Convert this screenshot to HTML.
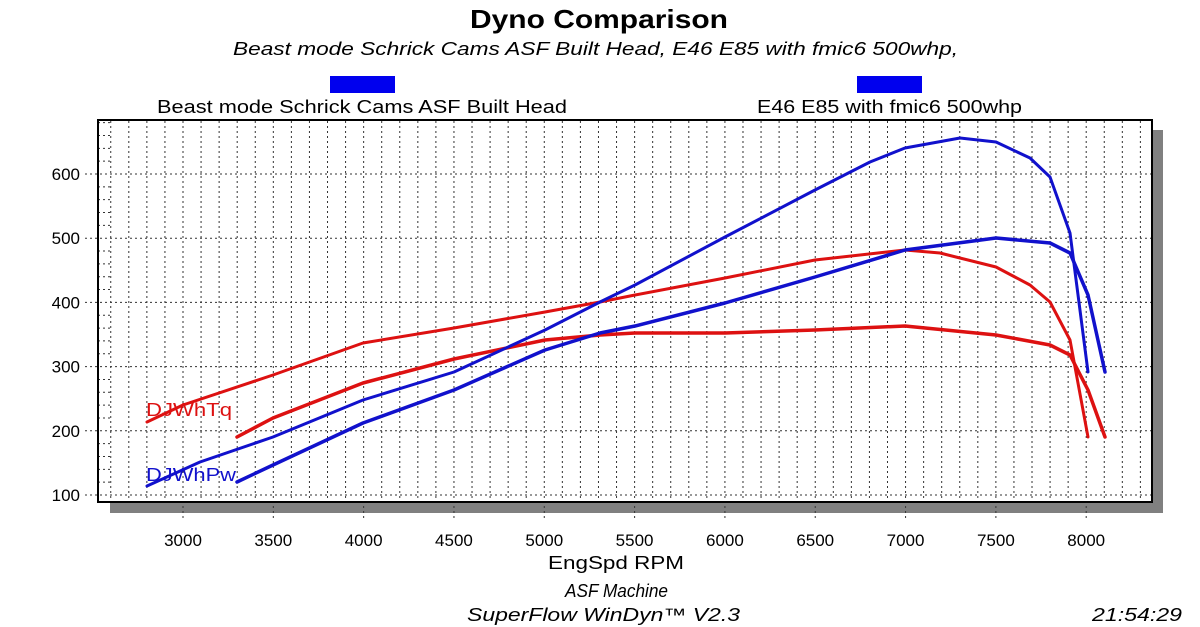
<!DOCTYPE html>
<html><head><meta charset="utf-8"><style>
html,body{margin:0;padding:0;background:#fff;}
svg{display:block;font-family:"Liberation Sans",sans-serif;}
</style></head><body>
<svg id="s" width="1200" height="627" viewBox="0 0 1200 627" xmlns="http://www.w3.org/2000/svg">
<rect x="0" y="0" width="1200" height="627" fill="#fff"/>
<text x="470" y="28" font-size="26" font-weight="bold" textLength="258" lengthAdjust="spacingAndGlyphs">Dyno Comparison</text>
<text x="233" y="55" font-size="18" font-style="italic" textLength="725" lengthAdjust="spacingAndGlyphs">Beast mode Schrick Cams ASF Built Head, E46 E85 with fmic6 500whp,</text>
<rect x="330" y="76" width="65" height="17" fill="#0000ee"/>
<rect x="857" y="76" width="65" height="17" fill="#0000ee"/>
<text x="157" y="113" font-size="18" textLength="410" lengthAdjust="spacingAndGlyphs">Beast mode Schrick Cams ASF Built Head</text>
<text x="757" y="113" font-size="18" textLength="265" lengthAdjust="spacingAndGlyphs">E46 E85 with fmic6 500whp</text>
<rect x="1152" y="130" width="11" height="383" fill="#808080"/>
<rect x="110" y="502" width="1053" height="11" fill="#808080"/>
<g id="grid" stroke="#333" stroke-width="1" stroke-dasharray="2,3"></g>
<rect x="98" y="120" width="1054" height="382" fill="none" stroke="#000" stroke-width="2"/>
<g font-size="17" text-anchor="end" id="yl"></g>
<g font-size="17" text-anchor="middle" id="xl"></g>
<text x="548" y="569" font-size="18" textLength="136" lengthAdjust="spacingAndGlyphs">EngSpd  RPM</text>
<text x="565" y="597" font-size="18" font-style="italic" textLength="103" lengthAdjust="spacingAndGlyphs">ASF Machine</text>
<text x="467" y="621" font-size="18" font-style="italic" textLength="273" lengthAdjust="spacingAndGlyphs">SuperFlow WinDyn™ V2.3</text>
<text x="1092" y="621" font-size="18" font-style="italic" textLength="90" lengthAdjust="spacingAndGlyphs">21:54:29</text>
<g fill="none" stroke-width="3.5" stroke-linejoin="round" stroke-linecap="round">
<polyline stroke="#dd1111" stroke-width="3" points="147,422 183,405 273,375 363,343 454,328 545,312 600,302 635,295 725,278 815,260 905,250 940,253 996,267 1030,285 1050,302 1070,340 1088,437"/>
<polyline stroke="#dd1111" points="237,437 273,418 363,383 454,359 545,340 600,335 635,333 725,333 815,330 905,326 996,335 1050,345 1070,355 1088,390 1105,437"/>
<polyline stroke="#1111cc" stroke-width="3" points="147,486 200,462 273,437 363,400 454,372 545,330 600,302 635,285 725,237 815,190 870,162 905,148 960,138 996,142 1030,158 1050,177 1070,233 1088,372"/>
<polyline stroke="#1111cc" points="237,482 273,465 363,423 454,390 545,350 600,333 635,326 725,303 815,277 905,250 996,238 1050,243 1070,253 1088,295 1105,372"/>
</g>
<text x="146" y="416" font-size="18" fill="#dd1111" textLength="86" lengthAdjust="spacingAndGlyphs">DJWhTq</text>
<text x="146" y="481" font-size="18" fill="#1111cc" textLength="90" lengthAdjust="spacingAndGlyphs">DJWhPw</text>
</svg>
<script>
var ns="http://www.w3.org/2000/svg",g=document.getElementById('grid');
function L(x1,y1,x2,y2){var l=document.createElementNS(ns,'line');l.setAttribute('x1',x1);l.setAttribute('y1',y1);l.setAttribute('x2',x2);l.setAttribute('y2',y2);g.appendChild(l);}
for(var r=2600;r<=8300;r+=100){var x=183+(r-3000)*0.18064;if(x>1150)break;L(x,121,x,(r%500==0)?520:501);}
for(var v=100;v<=600;v+=100){var y=174-(v-600)*0.642;L(85,y,1151,y);}
for(var v=100;v<=680;v+=20){if(v%100==0)continue;var y=174-(v-600)*0.642;if(y<121)continue;L(98,y,111,y);}
var yl=document.getElementById('yl');
for(var v=100;v<=600;v+=100){var t=document.createElementNS(ns,'text');t.setAttribute('x',80);t.setAttribute('y',174-(v-600)*0.642+6);t.textContent=v;yl.appendChild(t);}
var xl=document.getElementById('xl');
for(var r=3000;r<=8000;r+=500){var t=document.createElementNS(ns,'text');t.setAttribute('x',183+(r-3000)*0.18064);t.setAttribute('y',546);t.textContent=r;xl.appendChild(t);}
</script>
</body></html>
